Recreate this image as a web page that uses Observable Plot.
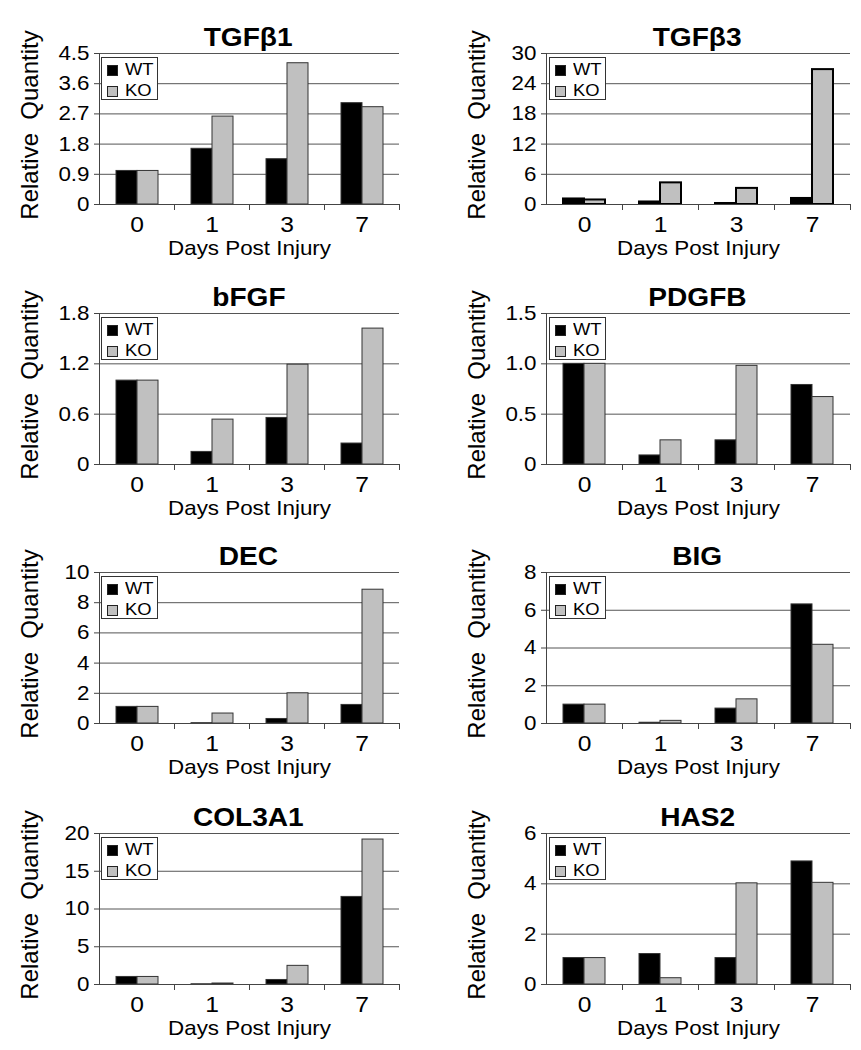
<!DOCTYPE html>
<html><head><meta charset="utf-8">
<script src="https://cdn.jsdelivr.net/npm/d3@7"></script>
<script src="https://cdn.jsdelivr.net/npm/@observablehq/plot@0.6"></script>
<style>
body{margin:0;background:#fff;}
#fig{position:relative;width:861px;height:1050px;font-family:Arial,"Liberation Sans",sans-serif;color:#000;overflow:hidden;}
.panel{position:absolute;overflow:visible;}
.title{position:absolute;text-align:center;font-weight:bold;font-size:26px;line-height:30px;white-space:nowrap;}
.title span{display:inline-block;transform:scaleX(1.08);transform-origin:center;}
.legend{position:absolute;box-sizing:border-box;width:57px;height:43px;border:1px solid #333;background:#fff;font-size:17px;}
.legend .row{position:absolute;left:5px;display:flex;align-items:center;height:16px;line-height:16px;}
.legend .sw{width:11px;height:11px;box-sizing:border-box;border:1px solid #222;margin-right:7px;}
.legend .tx{display:inline-block;transform:scaleX(1.08);transform-origin:left center;}
</style></head><body><div id="fig"></div>
<script>
// ---- data ----
const days = ["0", "1", "3", "7"];
const groups = ["WT", "KO"];
const groupColors = ["#000000", "#c0c0c0"];
const genes = ["TGFβ1", "TGFβ3", "bFGF", "PDGFB", "DEC", "BIG", "COL3A1", "HAS2"];

const tgfb1WT = [1.0, 1.66, 1.35, 3.02];
const tgfb1KO = [1.0, 2.62, 4.21, 2.90];
const tgfb1Ticks = [0, 0.9, 1.8, 2.7, 3.6, 4.5];
const tgfb1Labels = ["0", "0.9", "1.8", "2.7", "3.6", "4.5"];

const tgfb3WT = [1.1, 0.5, 0.2, 1.2];
const tgfb3KO = [0.9, 4.3, 3.2, 26.8];
const tgfb3Ticks = [0, 6, 12, 18, 24, 30];
const tgfb3Labels = ["0", "6", "12", "18", "24", "30"];

const bfgfWT = [1.0, 0.15, 0.555, 0.25];
const bfgfKO = [1.0, 0.535, 1.19, 1.62];
const bfgfTicks = [0, 0.6, 1.2, 1.8];
const bfgfLabels = ["0", "0.6", "1.2", "1.8"];

const pdgfbWT = [1.0, 0.09, 0.24, 0.79];
const pdgfbKO = [1.0, 0.24, 0.98, 0.67];
const pdgfbTicks = [0, 0.5, 1.0, 1.5];
const pdgfbLabels = ["0", "0.5", "1.0", "1.5"];

const decWT = [1.1, 0.02, 0.3, 1.23];
const decKO = [1.1, 0.66, 2.0, 8.86];
const decTicks = [0, 2, 4, 6, 8, 10];
const decLabels = ["0", "2", "4", "6", "8", "10"];

const bigWT = [1.0, 0.04, 0.79, 6.31];
const bigKO = [1.0, 0.14, 1.28, 4.17];
const bigTicks = [0, 2, 4, 6, 8];
const bigLabels = ["0", "2", "4", "6", "8"];

const col3a1WT = [1.0, 0.03, 0.6, 11.6];
const col3a1KO = [1.0, 0.13, 2.47, 19.2];
const col3a1Ticks = [0, 5, 10, 15, 20];
const col3a1Labels = ["0", "5", "10", "15", "20"];

const has2WT = [1.05, 1.21, 1.05, 4.89];
const has2KO = [1.05, 0.25, 4.02, 4.04];
const has2Ticks = [0, 2, 4, 6];
const has2Labels = ["0", "2", "4", "6"];

const yLabel = "Relative\u00a0 Quantity";
const xLabel = "Days Post Injury";

// ---- assemble ----
const panels = [
  {wt: tgfb1WT, ko: tgfb1KO, ticks: tgfb1Ticks, labels: tgfb1Labels},
  {wt: tgfb3WT, ko: tgfb3KO, ticks: tgfb3Ticks, labels: tgfb3Labels, heavy: true},
  {wt: bfgfWT, ko: bfgfKO, ticks: bfgfTicks, labels: bfgfLabels},
  {wt: pdgfbWT, ko: pdgfbKO, ticks: pdgfbTicks, labels: pdgfbLabels},
  {wt: decWT, ko: decKO, ticks: decTicks, labels: decLabels},
  {wt: bigWT, ko: bigKO, ticks: bigTicks, labels: bigLabels},
  {wt: col3a1WT, ko: col3a1KO, ticks: col3a1Ticks, labels: col3a1Labels},
  {wt: has2WT, ko: has2KO, ticks: has2Ticks, labels: has2Labels}
];

const fig = document.getElementById("fig");
const rowTops = [53, 313, 572, 833];
const plotH = 151, mTop = 50, mBottom = 61;
const FONT = "Arial, 'Liberation Sans', sans-serif";
const STRETCH = 1.12;

function stretchTexts(svg) {
  svg.querySelectorAll("text").forEach(t => {
    const tr = t.getAttribute("transform") || "";
    if (tr.includes("rotate")) return;
    const x = +t.getAttribute("x") || 0;
    t.setAttribute("transform", `${tr} translate(${x},0) scale(${STRETCH},1) translate(${-x},0)`);
  });
}

panels.forEach((p, i) => {
  const col = i % 2, row = Math.floor(i / 2);
  const panelLeft = col ? 430 : 0;
  const W = col ? 431 : 430;
  const mL = col ? 115 : 97;
  const mR = col ? 11 : 30;
  const plotTop = rowTops[row];
  const rows = [];
  days.forEach((d, j) => {
    rows.push({day: d, g: "WT", v: p.wt[j]});
    rows.push({day: d, g: "KO", v: p.ko[j]});
  });
  const yt = p.ticks;
  const chart = Plot.plot({
    width: W,
    height: mTop + plotH + mBottom,
    marginTop: mTop, marginBottom: mBottom, marginLeft: mL, marginRight: mR,
    style: {fontFamily: FONT, fontSize: "21px", background: "transparent", overflow: "visible", color: "#000"},
    fx: {domain: days, padding: 0},
    x: {domain: groups, paddingInner: 0, paddingOuter: 0.76, axis: null},
    y: {domain: [0, yt[yt.length - 1]]},
    color: {domain: groups, range: groupColors},
    marks: [
      Plot.gridY(yt, {stroke: "#555", strokeOpacity: 1, strokeWidth: 1}),
      Plot.barY(rows, {fx: "day", x: "g", y: "v", fill: "g",
        stroke: p.heavy ? "#000" : "#333", strokeWidth: p.heavy ? 2 : 1}),
      Plot.ruleY([0], {stroke: "#444"}),
      Plot.frame({anchor: "left", facetAnchor: "left", stroke: "#444"}),
      Plot.frame({anchor: "right", insetTop: plotH, insetBottom: -5, stroke: "#444"}),
      Plot.axisY(yt, {tickFormat: d => p.labels[yt.indexOf(d)], tickSize: 5, tickPadding: 5,
        label: null, fontSize: 20, stroke: "#444"}),
      Plot.text([yLabel], {frameAnchor: "left", textAnchor: "middle", lineAnchor: "middle",
        rotate: -90, dx: -69, dy: -4, fontSize: 24, facetAnchor: "left"}),
      Plot.axisFx({anchor: "bottom", tickSize: 0, tickPadding: 12, fontSize: 22, label: null}),
      Plot.axisFx([], {anchor: "bottom", tickSize: 0, label: xLabel, labelAnchor: "center",
        labelOffset: 50, labelArrow: "none", fontSize: 20})
    ]
  });
  stretchTexts(chart);
  chart.classList.add("panel");
  chart.style.left = panelLeft + "px";
  chart.style.top = (plotTop - mTop) + "px";
  fig.appendChild(chart);

  const t = document.createElement("div");
  t.className = "title";
  const ts = document.createElement("span");
  ts.textContent = genes[i];
  t.appendChild(ts);
  t.style.left = (panelLeft + mL) + "px";
  t.style.width = (W - mL - mR) + "px";
  t.style.top = (plotTop - 16 - 15) + "px";
  fig.appendChild(t);

  const lg = document.createElement("div");
  lg.className = "legend";
  lg.style.left = (panelLeft + mL + 4) + "px";
  lg.style.top = (plotTop + 4) + "px";
  groups.forEach((g, k) => {
    const r = document.createElement("div");
    r.className = "row";
    r.style.top = (k === 0 ? 4 : 25) + "px";
    const sw = document.createElement("span");
    sw.className = "sw";
    sw.style.background = groupColors[k];
    const tx = document.createElement("span");
    tx.className = "tx";
    tx.textContent = g;
    r.appendChild(sw); r.appendChild(tx);
    lg.appendChild(r);
  });
  fig.appendChild(lg);
});
</script>
</body></html>
